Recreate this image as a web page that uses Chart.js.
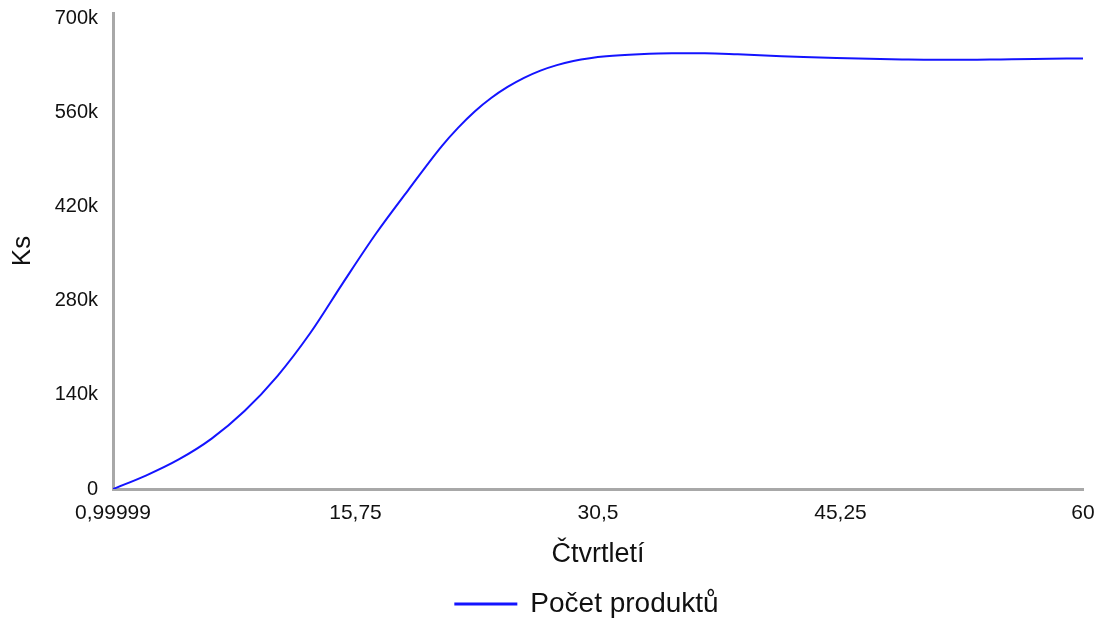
<!DOCTYPE html>
<html>
<head>
<meta charset="utf-8">
<script src="https://cdn.jsdelivr.net/npm/chart.js@4/dist/chart.umd.min.js"></script>
<style>
  html, body { margin: 0; padding: 0; background: #ffffff; }
  #wrap { width: 1098px; height: 618px; position: relative; }
</style>
</head>
<body>
<div id="wrap"><canvas id="c" width="1098" height="618"></canvas></div>
<script>
// Data
const quarters = [1, 3, 5, 7, 9, 11, 13, 15, 17, 19, 21, 22, 23, 24, 25, 26, 27, 28, 29, 30, 31, 33, 35, 37, 39, 41, 43, 45, 47, 49, 51, 53, 55, 57, 59, 60];
const productCount = [0, 20000, 44000, 75000, 116000, 168000, 232000, 307000, 380000, 446000, 510000, 537500, 561500, 581500, 598000, 611500, 622300, 630500, 636500, 640700, 643500, 646500, 648000, 648000, 646500, 644500, 642500, 641000, 639800, 639000, 638500, 638500, 639000, 639500, 640300, 640500];
const xTickValues = [0.99999, 15.75, 30.5, 45.25, 60];
const xTickLabels = ['0,99999', '15,75', '30,5', '45,25', '60'];
const yTickValues = [0, 140000, 280000, 420000, 560000, 700000];
const yTickLabels = ['0', '140k', '280k', '420k', '560k', '700k'];
const seriesName = 'Počet produktů';
const xTitle = 'Čtvrtletí';
const yTitle = 'Ks';

const FONT = "'Liberation Sans', Arial, sans-serif";
const points = quarters.map((q, i) => ({ x: q, y: productCount[i] }));

const legendShift = {
  id: 'legendShift',
  afterLayout(chart) {
    if (chart.legend) { chart.legend.left += 91; }
  }
};

new Chart(document.getElementById('c'), {
  type: 'line',
  data: {
    datasets: [{
      label: seriesName,
      data: points,
      borderColor: 'rgb(20,20,255)',
      backgroundColor: 'rgb(20,20,255)',
      borderWidth: 2,
      pointRadius: 0,
      cubicInterpolationMode: 'monotone',
      fill: false
    }]
  },
  plugins: [legendShift],
  options: {
    responsive: false,
    animation: false,
    devicePixelRatio: 1,
    layout: { padding: { left: 0, right: 15, top: 13, bottom: -10 } },
    plugins: {
      legend: {
        position: 'bottom',
        labels: {
          boxWidth: 61,
          boxHeight: 1,
          padding: 10,
          color: '#111111',
          font: { family: FONT, size: 28 }
        }
      },
      tooltip: { enabled: false }
    },
    scales: {
      x: {
        type: 'linear',
        min: 0.99999,
        max: 60,
        afterBuildTicks: (s) => { s.ticks = xTickValues.map(v => ({ value: v })); },
        afterFit: (s) => { s.height = 91; s.paddingLeft = 0; s.paddingRight = 0; },
        grid: { display: false, drawTicks: false },
        border: { display: true, color: '#a8a8a8', width: 3 },
        ticks: {
          padding: 12,
          color: '#111111',
          maxRotation: 0,
          autoSkip: false,
          font: { family: FONT, size: 21 },
          callback: (v) => { const i = xTickValues.indexOf(v); return i >= 0 ? xTickLabels[i] : ''; }
        },
        title: {
          display: true,
          text: xTitle,
          color: '#111111',
          font: { family: FONT, size: 27 },
          padding: { top: 0, bottom: 9 }
        }
      },
      y: {
        type: 'linear',
        min: 0,
        max: 708000,
        afterBuildTicks: (s) => { s.ticks = yTickValues.map(v => ({ value: v })); },
        afterFit: (s) => { s.width = 113; s.paddingTop = 0; s.paddingBottom = 0; },
        grid: { display: false, drawTicks: false },
        border: { display: true, color: '#a8a8a8', width: 3 },
        ticks: {
          padding: 15,
          color: '#111111',
          font: { family: FONT, size: 20 },
          callback: (v) => { const i = yTickValues.indexOf(v); return i >= 0 ? yTickLabels[i] : ''; }
        },
        title: {
          display: true,
          text: yTitle,
          color: '#111111',
          font: { family: FONT, size: 26 },
          padding: { top: 7, bottom: 0 }
        }
      }
    }
  }
});
</script>
</body>
</html>
